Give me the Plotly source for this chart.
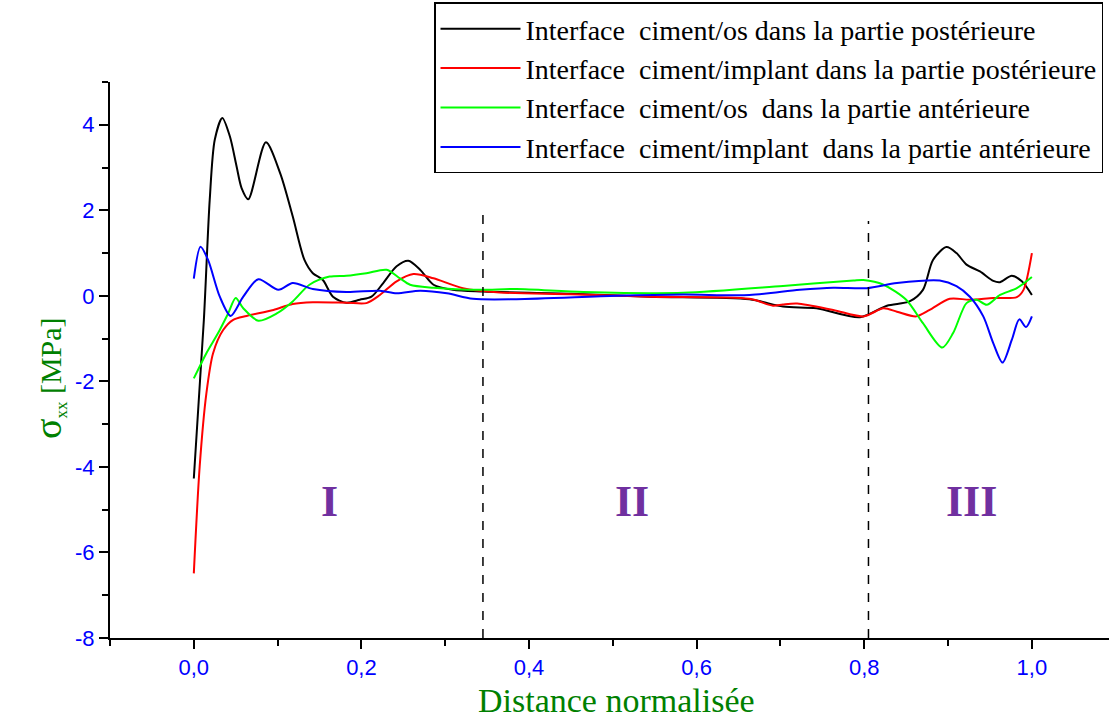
import plotly.graph_objects as go

# ---- data ----
x_black = [0.0, 0.012, 0.019, 0.025, 0.034, 0.043, 0.051, 0.057, 0.065, 0.086, 0.103, 0.118, 0.132, 0.142, 0.154,
           0.166, 0.182, 0.198, 0.212, 0.226, 0.242, 0.256, 0.27, 0.286, 0.309, 0.345, 0.45, 0.544, 0.663,
           0.703, 0.743, 0.795, 0.827, 0.854, 0.870, 0.882, 0.898, 0.910, 0.922, 0.938, 0.954, 0.962,
           0.976, 0.988, 1.0]
y_black = [-4.27, -0.56, 2.25, 3.65, 4.16, 3.73, 3.03, 2.52, 2.26, 3.59, 2.87, 1.86, 0.84, 0.53, 0.37,
           -0.02, -0.16, -0.09, -0.02, 0.3, 0.69, 0.82, 0.61, 0.26, 0.14, 0.1, 0.05, -0.02, -0.08,
           -0.25, -0.29, -0.5, -0.23, -0.13, 0.14, 0.84, 1.14, 1.0, 0.73, 0.57, 0.35, 0.32,
           0.47, 0.34, 0.02]

x_red = [0.0, 0.007, 0.015, 0.023, 0.035, 0.047, 0.063, 0.095, 0.118, 0.142, 0.182, 0.206, 0.222, 0.242,
         0.262, 0.286, 0.321, 0.365, 0.45, 0.544, 0.663, 0.691, 0.703, 0.72, 0.763, 0.799, 0.823,
         0.839, 0.862, 0.878, 0.902, 0.926, 0.954, 0.982, 0.990, 1.0]
y_red = [-6.49, -3.99, -2.28, -1.34, -0.8, -0.56, -0.47, -0.33, -0.19, -0.15, -0.16, -0.17, 0.02, 0.34,
         0.51, 0.41, 0.18, 0.08, 0.04, -0.02, -0.07, -0.23, -0.2, -0.18, -0.33, -0.48, -0.29,
         -0.37, -0.48, -0.33, -0.07, -0.09, -0.05, -0.03, 0.14, 1.0]

x_green = [0.0, 0.015, 0.029, 0.041, 0.05, 0.059, 0.077, 0.099, 0.118, 0.138, 0.162, 0.182, 0.206, 0.23,
           0.246, 0.258, 0.286, 0.341, 0.385, 0.465, 0.584, 0.703, 0.787, 0.799, 0.823, 0.850, 0.870,
           0.893, 0.906, 0.922, 0.934, 0.946, 0.962, 0.982, 1.0]
y_green = [-1.93, -1.34, -0.87, -0.41, -0.05, -0.29, -0.58, -0.41, -0.13, 0.26, 0.45, 0.47, 0.53, 0.61,
           0.41, 0.26, 0.19, 0.14, 0.16, 0.09, 0.07, 0.23, 0.36, 0.37, 0.26, -0.09, -0.64,
           -1.21, -0.87, -0.17, -0.09, -0.21, 0.02, 0.18, 0.44]

x_blue = [0.0, 0.008, 0.017, 0.031, 0.044, 0.059, 0.077, 0.101, 0.118, 0.142, 0.182, 0.222, 0.242, 0.27,
          0.302, 0.333, 0.385, 0.504, 0.584, 0.663, 0.723, 0.763, 0.803, 0.839, 0.89, 0.910, 0.926,
          0.942, 0.954, 0.965, 0.976, 0.985, 0.993, 1.0]
y_blue = [0.4, 1.15, 0.84, -0.02, -0.47, -0.02, 0.39, 0.14, 0.3, 0.16, 0.09, 0.12, 0.06, 0.12,
          0.06, -0.07, -0.08, 0.0, 0.03, 0.02, 0.14, 0.19, 0.18, 0.3, 0.36, 0.23, -0.02,
          -0.48, -1.11, -1.56, -1.03, -0.55, -0.73, -0.48]

series_names = [
    "Interface\u00a0 ciment/os dans la partie postérieure",
    "Interface\u00a0 ciment/implant dans la partie postérieure",
    "Interface\u00a0 ciment/os\u00a0 dans la partie antérieure",
    "Interface\u00a0 ciment/implant\u00a0 dans la partie antérieure",
]
series_colors = ["#000000", "#FF0000", "#00FF00", "#0000FF"]

divider_x = [0.345, 0.805]
divider_top = [2.1, 1.75]
y_bottom = -8

region_labels = ["I", "II", "III"]
region_x = [0.162, 0.523, 0.928]
region_y = [-4.8, -4.8, -4.8]

y_tick_vals = [-8, -6, -4, -2, 0, 2, 4]
y_tick_text = ["-8", "-6", "-4", "-2", "0", "2", "4"]

fig = go.Figure()

xs = [x_black, x_red, x_green, x_blue]
ys = [y_black, y_red, y_green, y_blue]
for xv, yv, name, col in zip(xs, ys, series_names, series_colors):
    fig.add_trace(go.Scatter(x=xv, y=yv, mode="lines", name=name,
                             line=dict(color=col, width=2, shape="spline", smoothing=0.8)))

for dx, dt in zip(divider_x, divider_top):
    fig.add_trace(go.Scatter(x=[dx, dx], y=[y_bottom, dt], mode="lines", showlegend=False,
                             line=dict(color="black", width=1.5, dash="dash"), hoverinfo="skip"))

for lab, rx, ry in zip(region_labels, region_x, region_y):
    fig.add_annotation(x=rx, y=ry, text="<b>%s</b>" % lab, showarrow=False,
                       font=dict(family="Liberation Serif", size=44, color="#7030A0"))

# axis titles
fig.add_annotation(xref="paper", yref="paper", x=-0.085, y=0.4676,
                   text="<span style='font-size:38px'>σ</span><sub><span style='font-size:17px'>xx</span></sub> [MPa]",
                   textangle=-90, showarrow=False,
                   font=dict(family="Liberation Serif", size=30, color="#008000"))
fig.add_annotation(xref="paper", yref="paper", x=0.5075, y=-0.113, text="Distance normalisée",
                   showarrow=False, yanchor="middle",
                   font=dict(family="Liberation Serif", size=34, color="#008000"))

fig.update_layout(
    width=1109, height=726,
    margin=dict(l=110, r=0, t=82, b=88),
    plot_bgcolor="white", paper_bgcolor="white",
    separators=",.",
    showlegend=True,
    legend=dict(x=0.994, y=1.143, xanchor="right", yanchor="top",
                bordercolor="black", borderwidth=1.5, bgcolor="white",
                font=dict(family="Liberation Serif", size=28, color="black"),
                tracegroupgap=0, itemwidth=80),
    xaxis=dict(range=[-0.1, 1.092], showgrid=False, zeroline=False,
               showline=True, linecolor="black", linewidth=2,
               ticks="outside", ticklen=9, tickwidth=2, tickcolor="black",
               tick0=0, dtick=0.2, tickformat=".1f",
               minor=dict(ticks="outside", ticklen=6, tickwidth=2, tickcolor="black", dtick=0.1, tick0=0),
               tickfont=dict(family="Liberation Sans", size=22, color="#0000FF")),
    yaxis=dict(range=[-8, 5], showgrid=False, zeroline=False,
               showline=True, linecolor="black", linewidth=2,
               ticks="outside", ticklen=9, tickwidth=2, tickcolor="black",
               tickvals=y_tick_vals, ticktext=y_tick_text,
               minor=dict(ticks="outside", ticklen=6, tickwidth=2, tickcolor="black", dtick=1, tick0=0),
               tickfont=dict(family="Liberation Sans", size=22, color="#0000FF")),
)

fig.write_html("out.html")
